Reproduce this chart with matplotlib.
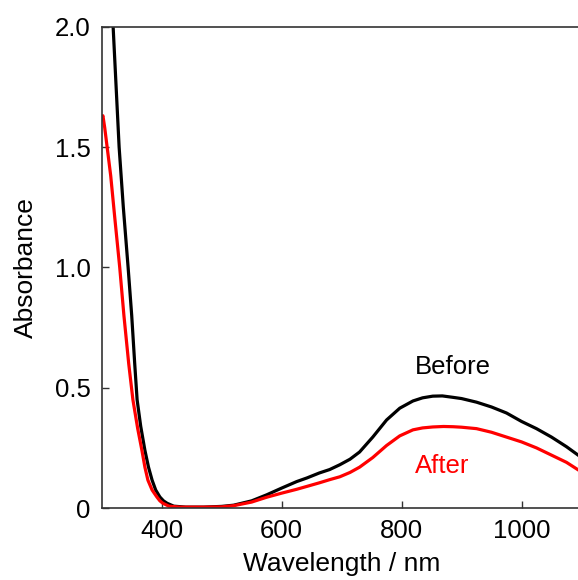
import matplotlib.pyplot as plt
import numpy as np

plt.rcParams['font.family'] = ['Liberation Sans', 'DejaVu Sans']

# wavelength (nm) and absorbance
wl_before = [319, 324, 329, 336, 344, 350, 355, 359, 365, 372, 378, 384, 390, 397, 403, 409,
             420, 440, 470, 500, 520, 550, 575, 600, 625, 642, 663, 680, 697, 714, 730, 752,
             775, 797, 819, 835, 852, 868, 886, 900, 925, 950, 975, 1000, 1025, 1050, 1075,
             1100]
abs_before = [2.0, 1.75, 1.5, 1.25, 1.0, 0.8, 0.6, 0.45, 0.34, 0.24, 0.17, 0.116, 0.075,
              0.046, 0.03, 0.02, 0.008, 0.004, 0.004, 0.007, 0.012, 0.03, 0.055, 0.083, 0.11,
              0.125, 0.146, 0.16, 0.18, 0.203, 0.233, 0.295, 0.366, 0.415, 0.445, 0.458,
              0.465, 0.466, 0.46, 0.455, 0.44, 0.42, 0.395, 0.36, 0.33, 0.295, 0.255, 0.21]

wl_after = [300, 302, 305, 309, 315, 322, 330, 337, 345, 352, 360, 367, 372, 377, 384, 392,
            397, 402, 412, 430, 470, 500, 520, 550, 575, 600, 625, 642, 663, 680, 697, 714,
            730, 752, 775, 797, 819, 835, 852, 870, 886, 900, 925, 950, 975, 1000, 1025, 1050,
            1075, 1100]
abs_after = [1.62, 1.63, 1.58, 1.5, 1.38, 1.2, 1.0, 0.8, 0.6, 0.45, 0.33, 0.24, 0.17, 0.116,
             0.075, 0.046, 0.03, 0.02, 0.008, 0.004, 0.004, 0.005, 0.01, 0.025, 0.045, 0.062,
             0.078, 0.09, 0.105, 0.118, 0.13, 0.148, 0.17, 0.21, 0.26, 0.30, 0.325, 0.333,
             0.337, 0.339, 0.338, 0.336, 0.33, 0.315, 0.295, 0.275, 0.25, 0.22, 0.19, 0.15]

x_ticks = [400, 600, 800, 1000]
y_ticks = [0, 0.5, 1.0, 1.5, 2.0]
y_labels = ['0', '0.5', '1.0', '1.5', '2.0']

fig = plt.figure(figsize=(5.78, 5.80), dpi=100)
ax = fig.add_axes([0.176, 0.124, 0.83, 0.83])

ax.plot(wl_before, abs_before, color='black', lw=2.3)
ax.plot(wl_after, abs_after, color='red', lw=2.3)

ax.text(886, 0.585, 'Before', color='black', fontsize=18.5, ha='center', va='center')
ax.text(868, 0.175, 'After', color='red', fontsize=18.5, ha='center', va='center')

ax.set_xlim(300, 1100)
ax.set_ylim(0, 2.0)
ax.set_xticks(x_ticks)
ax.set_yticks(y_ticks)
ax.set_yticklabels(y_labels)
ax.tick_params(direction='in', length=5, width=1, labelsize=18.5, pad=8, color='#333333')
ax.spines['right'].set_visible(False)
for s in ['left', 'bottom', 'top']:
    ax.spines[s].set_color('#333333')
    ax.spines[s].set_linewidth(1.2)

ax.set_xlabel('Wavelength / nm', fontsize=19, labelpad=6)
ax.set_ylabel('Absorbance', fontsize=19, labelpad=12)

plt.savefig('out.png', dpi=100)
